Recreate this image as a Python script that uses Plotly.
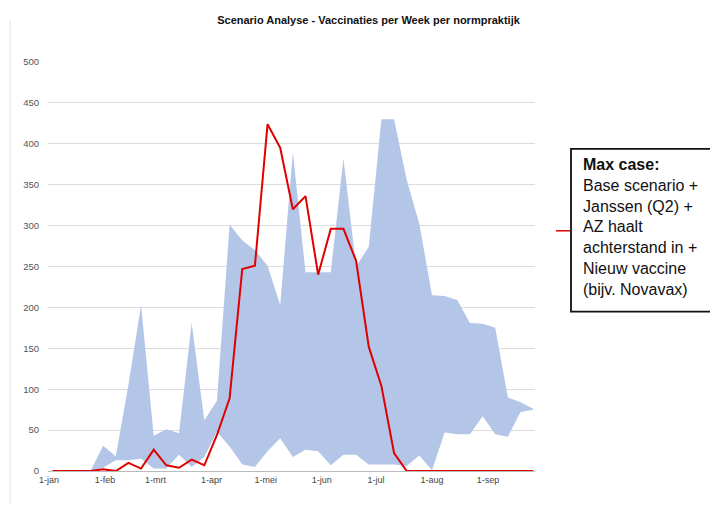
import pandas as pd
import plotly.graph_objects as go

# ---- data ----
week_start = "2021-01-03"
n_weeks = 39
weeks = pd.date_range(week_start, periods=n_weeks, freq="7D")

max_case = [0, 0, 0, 0, 2, 0, 10, 3, 26, 7, 4, 14, 7, 44, 89, 247, 251, 424, 395, 320,
            336, 240, 296, 296, 257, 152, 104, 22, 0, 0, 0, 0, 0, 0, 0, 0, 0, 0, 0]
band_upper = [0, 0, 0, 0, 31, 18, 105, 203, 43, 51, 46, 181, 62, 86, 301, 282, 270, 251, 203, 390,
              243, 243, 243, 382, 250, 274, 430, 430, 356, 302, 215, 214, 209, 181, 180, 175, 90, 84, 76]
band_lower = [0, 0, 0, 0, 4, 13, 13, 15, 3, 3, 20, 5, 17, 48, 30, 8, 5, 24, 40, 17,
              26, 24, 7, 20, 20, 8, 8, 8, 6, 19, 1, 47, 45, 45, 67, 45, 42, 72, 75]

tick_dates = ["2021-01-01", "2021-02-01", "2021-03-01", "2021-04-01", "2021-05-01",
              "2021-06-01", "2021-07-01", "2021-08-01", "2021-09-01"]
tick_labels = ["1-jan", "1-feb", "1-mrt", "1-apr", "1-mei", "1-jun", "1-jul", "1-aug", "1-sep"]
y_ticks = [0, 50, 100, 150, 200, 250, 300, 350, 400, 450, 500]

title_text = "Scenario Analyse - Vaccinaties per Week per normpraktijk"
note_text = ("<b>Max case:</b><br>Base scenario +<br>Janssen (Q2) +<br>AZ haalt<br>"
             "achterstand in +<br>Nieuw vaccine<br>(bijv. Novavax)")

# ---- layout geometry (page pixels; the page body has an 8px margin) ----
OFF = 8
W, H = 718, 507
PLOT_L, PLOT_R, PLOT_T, PLOT_B = 48, 535, 62, 471.5   # page pixel positions of plot area
ML = PLOT_L - OFF
MT = PLOT_T - OFF
MR = W - (PLOT_R - OFF)
MB = H - (PLOT_B - OFF)
PW, PH = W - ML - MR, H - MT - MB


def px2x(px):
    return (px - PLOT_L) / PW


def py2y(py):
    return 1 - (py - PLOT_T) / PH


FONT = "Liberation Sans, Arial, sans-serif"
BLUE = "#B4C6E7"
RED = "#E00000"

fig = go.Figure()
fig.add_trace(go.Scatter(x=weeks, y=band_lower, mode="lines", line=dict(width=0, color=BLUE),
                         hoverinfo="skip", showlegend=False))
fig.add_trace(go.Scatter(x=weeks, y=band_upper, mode="lines", line=dict(width=0, color=BLUE),
                         fill="tonexty", fillcolor=BLUE, showlegend=False))
fig.add_trace(go.Scatter(x=weeks, y=max_case, mode="lines", line=dict(width=2, color=RED),
                         showlegend=False, cliponaxis=False))

fig.update_layout(
    width=W, height=H,
    margin=dict(l=ML, r=MR, t=MT, b=MB, pad=0),
    paper_bgcolor="white", plot_bgcolor="white",
    font=dict(family=FONT, color="#444", size=9),
    title=dict(text="<b>" + title_text + "</b>", x=(368.5 - OFF) / W, xanchor="center",
               xref="container", y=1 - (20 - OFF) / H, yanchor="middle", yref="container",
               font=dict(family=FONT, size=11, color="#111")),
    xaxis=dict(type="date", range=["2020-12-31 12:00", "2021-09-27"],
               tickvals=tick_dates, ticktext=tick_labels, showgrid=False,
               showline=True, linecolor="#bbb", linewidth=1, ticks="",
               tickfont=dict(size=9, color="#444")),
    yaxis=dict(range=[0, 500], tickvals=y_ticks, showgrid=True, gridcolor="#dcdcdc",
               gridwidth=1, zeroline=False, ticks="", tickfont=dict(size=9.5, color="#555"),
               ticklabelstandoff=8),
)

# frame line of the screenshot (left)
fig.add_shape(type="line", xref="paper", yref="paper", x0=px2x(10), x1=px2x(10),
              y0=py2y(20), y1=py2y(505), line=dict(color="#e3e3e3", width=1))

# annotation box with connector
fig.add_shape(type="line", xref="paper", yref="paper", x0=px2x(556), x1=px2x(570),
              y0=py2y(231), y1=py2y(231), line=dict(color=RED, width=1.5))
fig.add_shape(type="rect", xref="paper", yref="paper", x0=px2x(571), x1=px2x(730),
              y0=py2y(149), y1=py2y(312), line=dict(color="#111", width=1.8),
              fillcolor="white")
fig.add_annotation(xref="paper", yref="paper", x=px2x(581), y=py2y(154), xanchor="left",
                   yanchor="top", align="left", showarrow=False, text=note_text,
                   font=dict(family=FONT, size=16, color="#111"))

fig.write_html("out.html")
